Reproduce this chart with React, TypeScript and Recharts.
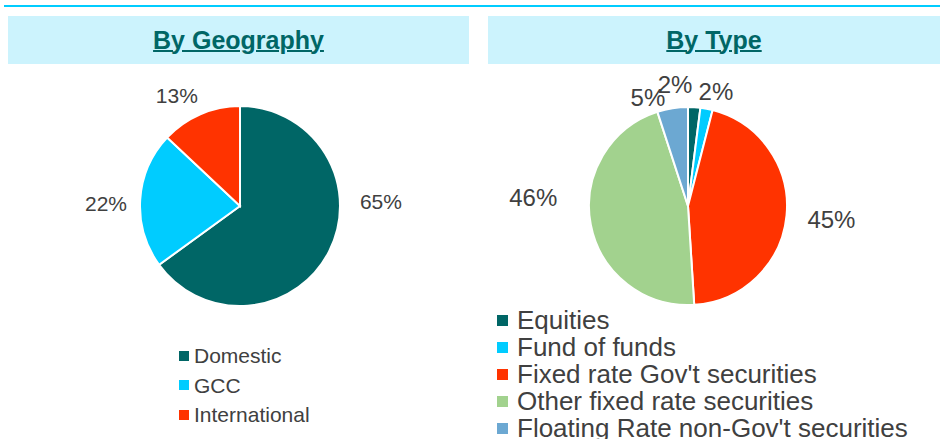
import React from 'react';
import { PieChart, Pie, Cell, Legend } from 'recharts';

const GEO_NAMES = ['Domestic', 'GCC', 'International'];
const GEO_VALUES = [65, 22, 13];

const TYPE_NAMES = [
  'Equities',
  'Fund of funds',
  "Fixed rate Gov't securities",
  'Other fixed rate securities',
  "Floating Rate non-Gov't securities",
];
const TYPE_VALUES = [2, 2, 45, 46, 5];

const GEO_COLORS = ['#006666', '#00CCFF', '#FF3300'];
const TYPE_COLORS = ['#006666', '#00CCFF', '#FF3300', '#A2D28E', '#6CA8D2'];

// Excel "best fit" label nudges: angle shift (deg) and distance beyond the rim (px)
const GEO_LABEL_SHIFT = [29, 2.7, 6.4];
const GEO_LABEL_GAP = [41, 34, 27];
const TYPE_LABEL_SHIFT = [9.7, -2.9, 0.2, -13.8, 11.2];
const TYPE_LABEL_GAP = [23, 19, 45, 56, 17];

const TEXT = '#404040';
const TEAL = '#006666';
const FONT = "'Liberation Sans', Arial, sans-serif";
const RAD = Math.PI / 180;

const geoData = GEO_NAMES.map((name, i) => ({ name, value: GEO_VALUES[i] }));
const typeData = TYPE_NAMES.map((name, i) => ({ name, value: TYPE_VALUES[i] }));

const makeLabel = (shift: number[], gap: number[], fontSize: number) => (props: any) => {
  const { cx, cy, midAngle, outerRadius, percent, index } = props;
  const a = (midAngle + shift[index]) * RAD;
  const r = outerRadius + gap[index];
  const x = cx + r * Math.cos(a);
  const y = cy - r * Math.sin(a);
  return (
    <text x={x} y={y} fill={TEXT} fontSize={fontSize} fontFamily={FONT} textAnchor="middle" dominantBaseline="central">
      {`${Math.round(percent * 100)}%`}
    </text>
  );
};

// keep the series order (recharts sorts legend payload by name)
const makeLegend = (names: string[], colors: string[], fontSize: number, rowH: number, box: number, gap: number) => () => (
  <div style={{ fontFamily: FONT, fontSize, color: TEXT, lineHeight: `${rowH}px` }}>
    {names.map((name, i) => (
      <div key={name} style={{ display: 'flex', alignItems: 'center', height: rowH, whiteSpace: 'nowrap' }}>
        <span style={{ display: 'inline-block', width: box, height: box, background: colors[i], marginRight: gap }} />
        <span>{name}</span>
      </div>
    ))}
  </div>
);

const Header: React.FC<{ title: string; left: number; width: number }> = ({ title, left, width }) => (
  <div
    style={{
      position: 'absolute',
      left,
      top: 16,
      width,
      height: 48,
      background: '#CCF3FD',
      display: 'flex',
      alignItems: 'center',
      justifyContent: 'center',
      fontFamily: FONT,
      fontWeight: 'bold',
      fontSize: 25,
      color: TEAL,
      textDecoration: 'underline',
      textDecorationThickness: 2,
    }}
  >
    {title}
  </div>
);

export default function App() {
  return (
    <div style={{ position: 'absolute', left: 0, top: 0, width: 940, height: 439, overflow: 'hidden', background: '#fff' }}>
      <div style={{ position: 'absolute', left: 4, top: 5, width: 936, height: 2, background: '#00CCFF' }} />
      <Header title="By Geography" left={8} width={461} />
      <Header title="By Type" left={488} width={452} />

      <div style={{ position: 'absolute', left: 0, top: 0 }}>
        <PieChart width={470} height={439} margin={{ top: 0, right: 0, bottom: 0, left: 0 }}>
          <Pie
            data={geoData}
            dataKey="value"
            nameKey="name"
            cx={240}
            cy={206}
            outerRadius={100}
            startAngle={90}
            endAngle={-270}
            stroke="#fff"
            strokeWidth={2}
            labelLine={false}
            label={makeLabel(GEO_LABEL_SHIFT, GEO_LABEL_GAP, 21)}
            isAnimationActive={false}
          >
            {geoData.map((d, i) => (
              <Cell key={d.name} fill={GEO_COLORS[i]} />
            ))}
          </Pie>
          <Legend
            layout="vertical"
            wrapperStyle={{ left: 179, top: 341, width: 'auto' }}
            content={makeLegend(GEO_NAMES, GEO_COLORS, 21, 29.5, 10, 5)}
          />
        </PieChart>
      </div>

      <div style={{ position: 'absolute', left: 470, top: 0 }}>
        <PieChart width={470} height={439} margin={{ top: 0, right: 0, bottom: 0, left: 0 }}>
          <Pie
            data={typeData}
            dataKey="value"
            nameKey="name"
            cx={218}
            cy={206}
            outerRadius={99}
            startAngle={90}
            endAngle={-270}
            stroke="#fff"
            strokeWidth={2}
            labelLine={false}
            label={makeLabel(TYPE_LABEL_SHIFT, TYPE_LABEL_GAP, 24)}
            isAnimationActive={false}
          >
            {typeData.map((d, i) => (
              <Cell key={d.name} fill={TYPE_COLORS[i]} />
            ))}
          </Pie>
          <Legend
            layout="vertical"
            wrapperStyle={{ left: 27, top: 306.5, width: 'auto' }}
            content={makeLegend(TYPE_NAMES, TYPE_COLORS, 26, 27, 11, 9)}
          />
        </PieChart>
      </div>
    </div>
  );
}
